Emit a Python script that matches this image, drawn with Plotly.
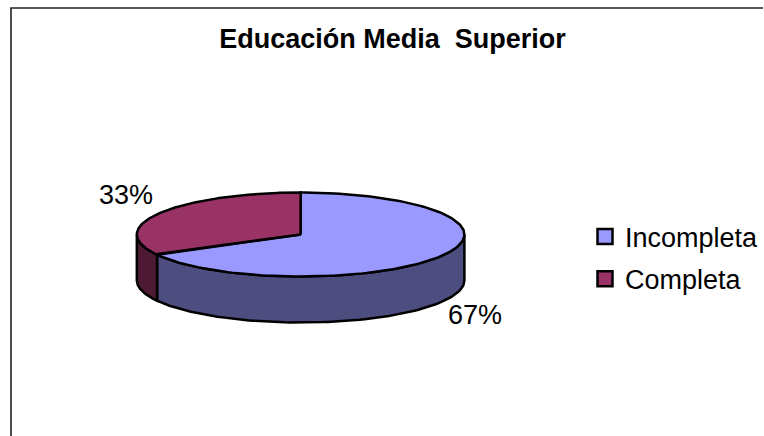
"""Educación Media Superior: pastel 3D (Plotly no lo trae, se arma con Scatter)."""
import numpy as np
import plotly.graph_objects as go

categorias = ["Incompleta", "Completa"]
valores = [67, 33]
colores_tapa = ["#9999FF", "#993366"]
colores_lado = ["#4D4D80", "#4D1A33"]

# geometría del pastel, en píxeles de la página
CX, CY = 301, 234.5
RX, RY = 164, 42
ALTO = 46
LABEL_RX, LABEL_RY = 203, 73
FUENTE = "Liberation Sans"


def borde(t, dy=0):
    # t en grados, sentido horario desde las 12
    r = np.radians(t)
    return CX + RX * np.sin(r), CY - RY * np.cos(r) + dy


fig = go.Figure()
cortes = np.cumsum([0] + valores) / sum(valores) * 360

# paredes: solo la parte delantera (90° a 270°)
for i, cat in enumerate(categorias):
    a, b = max(cortes[i], 90), min(cortes[i + 1], 270)
    if a >= b:
        continue
    t = np.linspace(a, b, 80)
    x1, y1 = borde(t)
    x2, y2 = borde(t[::-1], ALTO)
    fig.add_trace(go.Scatter(
        x=np.r_[x1, x2, x1[0]], y=np.r_[y1, y2, y1[0]], mode="lines", fill="toself",
        fillcolor=colores_lado[i], line=dict(color="black", width=2.5),
        showlegend=False, hoverinfo="skip"))

# tapa
for i, cat in enumerate(categorias):
    t = np.linspace(cortes[i], cortes[i + 1], 160)
    x1, y1 = borde(t)
    fig.add_trace(go.Scatter(
        x=np.r_[CX, x1, CX], y=np.r_[CY, y1, CY], mode="lines", fill="toself",
        fillcolor=colores_tapa[i], line=dict(color="black", width=2.5),
        showlegend=False, hoverinfo="skip"))

# etiquetas de porcentaje
for i, v in enumerate(valores):
    m = np.radians((cortes[i] + cortes[i + 1]) / 2)
    frente = ALTO if np.cos(m) < 0 else 0
    fig.add_trace(go.Scatter(
        x=[CX + LABEL_RX * np.sin(m)], y=[CY - LABEL_RY * np.cos(m) + frente],
        mode="text", text=[f"{v}%"], textposition="middle center",
        textfont=dict(family=FUENTE, size=27, color="black"),
        cliponaxis=False, showlegend=False, hoverinfo="skip"))

# leyenda
for i, cat in enumerate(categorias):
    fig.add_trace(go.Scatter(
        x=[None], y=[None], mode="markers", name=cat, legendgroup=cat,
        marker=dict(symbol="square", size=15, color=colores_tapa[i],
                    line=dict(color="black", width=2.5))))

fig.update_layout(
    width=764, height=436, margin=dict(l=0, r=0, t=0, b=0),
    paper_bgcolor="white", plot_bgcolor="white",
    title=dict(text="<b>Educación Media  Superior</b>", x=392.5 / 764, xanchor="center",
               y=1 - 39 / 436, yanchor="middle",
               font=dict(family=FUENTE, size=27, color="black")),
    xaxis=dict(range=[0, 764], visible=False, fixedrange=True),
    yaxis=dict(range=[436, 0], visible=False, fixedrange=True),
    legend=dict(x=586 / 764, y=1 - 258 / 436, xanchor="left", yanchor="middle",
                font=dict(family=FUENTE, size=27, color="black"),
                bgcolor="rgba(0,0,0,0)", itemwidth=30, tracegroupgap=4),
    shapes=[dict(type="path", path="M 11 436 L 11 8 L 764 8", xref="x", yref="y",
                 line=dict(color="#222222", width=1.6))],
)

# sin el margen de 8 px del body
fig.write_html("out.html", config={"displayModeBar": False},
               post_script="document.body.style.margin='0';")
